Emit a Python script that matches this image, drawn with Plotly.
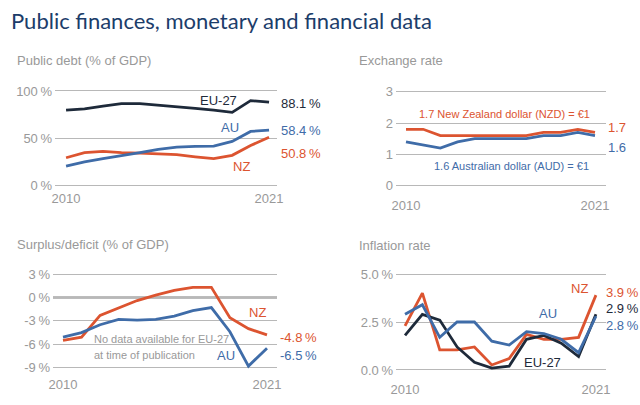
import plotly.graph_objects as go

# ---------------- data ----------------
years = list(range(2010, 2022))

debt_eu = [79.6, 81.0, 84.0, 86.5, 86.5, 85.0, 83.5, 81.4, 79.6, 77.2, 89.8, 88.1]
debt_au = [20.0, 24.5, 28.0, 31.0, 34.5, 38.0, 40.4, 41.0, 41.4, 46.3, 57.0, 58.4]
debt_nz = [29.0, 34.4, 35.8, 34.4, 34.0, 33.3, 32.3, 30.0, 28.0, 31.6, 42.0, 50.8]

fx_nzd = [1.8, 1.8, 1.6, 1.6, 1.6, 1.6, 1.6, 1.6, 1.7, 1.7, 1.8, 1.7]
fx_aud = [1.4, 1.3, 1.2, 1.4, 1.5, 1.5, 1.5, 1.5, 1.6, 1.6, 1.7, 1.6]

bal_nz = [-5.5, -5.1, -2.3, -1.4, -0.4, 0.3, 0.9, 1.3, 1.3, -2.6, -4.0, -4.8]
bal_au = [-5.1, -4.5, -3.5, -2.8, -2.9, -2.8, -2.4, -1.7, -1.3, -4.4, -8.8, -6.5]

inf_nz = [2.3, 4.0, 1.05, 1.05, 1.2, 0.26, 0.6, 1.85, 1.6, 1.6, 1.7, 3.9]
inf_au = [2.9, 3.4, 1.7, 2.5, 2.5, 1.5, 1.3, 2.0, 1.9, 1.6, 0.9, 2.8]
inf_eu = [1.8, 2.9, 2.6, 1.2, 0.4, 0.1, 0.2, 1.6, 1.8, 1.4, 0.7, 2.9]

TS = "\u2009"  # thin space before %
debt_ticks = [0, 50, 100]
debt_ticktext = [f"0{TS}%", f"50{TS}%", f"100{TS}%"]
fx_ticks = [0, 1, 2, 3]
bal_ticks = [-9, -6, -3, 0, 3]
bal_ticktext = [f"-9{TS}%", f"-6{TS}%", f"-3{TS}%", f"0{TS}%", f"3{TS}%"]
inf_ticks = [0, 2.5, 5]
inf_ticktext = [f"0.0{TS}%", f"2.5{TS}%", f"5.0{TS}%"]
x_ticks = [2010, 2021]

# ---------------- style ----------------
W, H = 640, 405
RED = "#dc5430"
BLUE = "#3f6ca8"
DARK = "#1e2a3a"
GRAY = "#999999"
GRID = "#b8b8b8"
TITLE = "#1c3d6a"
FONT = "Liberation Sans, Arial, sans-serif"
FS = 13

def px(x):
    return x / W

def py(y):
    return 1 - y / H

fig = go.Figure()

LW = 2.8
# panel 1
fig.add_trace(go.Scatter(x=years, y=debt_eu, mode="lines", line=dict(color=DARK, width=LW), xaxis="x", yaxis="y"))
fig.add_trace(go.Scatter(x=years, y=debt_nz, mode="lines", line=dict(color=RED, width=LW), xaxis="x", yaxis="y"))
fig.add_trace(go.Scatter(x=years, y=debt_au, mode="lines", line=dict(color=BLUE, width=LW), xaxis="x", yaxis="y"))
# panel 2
fig.add_trace(go.Scatter(x=years, y=fx_nzd, mode="lines", line=dict(color=RED, width=LW), xaxis="x2", yaxis="y2"))
fig.add_trace(go.Scatter(x=years, y=fx_aud, mode="lines", line=dict(color=BLUE, width=LW), xaxis="x2", yaxis="y2"))
# panel 3
fig.add_trace(go.Scatter(x=years, y=bal_nz, mode="lines", line=dict(color=RED, width=LW), xaxis="x3", yaxis="y3"))
fig.add_trace(go.Scatter(x=years, y=bal_au, mode="lines", line=dict(color=BLUE, width=LW), xaxis="x3", yaxis="y3"))
# panel 4
fig.add_trace(go.Scatter(x=years, y=inf_nz, mode="lines", line=dict(color=RED, width=LW), xaxis="x4", yaxis="y4"))
fig.add_trace(go.Scatter(x=years, y=inf_eu, mode="lines", line=dict(color=DARK, width=LW), xaxis="x4", yaxis="y4"))
fig.add_trace(go.Scatter(x=years, y=inf_au, mode="lines", line=dict(color=BLUE, width=LW), xaxis="x4", yaxis="y4"))

tickfont = dict(family=FONT, size=FS, color=GRAY)

def xax(l, r, rng, anchor, standoff):
    return dict(domain=[px(l), px(r)], range=rng, anchor=anchor, tickvals=x_ticks,
                showgrid=False, zeroline=False, showline=False, ticks="", automargin=False,
                tickfont=tickfont, ticklabelstandoff=standoff, fixedrange=True)

def yax(t, b, rng, anchor, tv, tt):
    return dict(domain=[py(b), py(t)], range=rng, anchor=anchor, tickvals=tv, ticktext=tt,
                showgrid=True, gridcolor=GRID, gridwidth=1, zeroline=False, showline=False,
                ticks="", automargin=False, tickfont=tickfont, ticklabelstandoff=2,
                fixedrange=True)

fig.update_layout(
    template="none",
    width=W, height=H, margin=dict(l=0, r=0, t=0, b=0, pad=0), autosize=False,
    paper_bgcolor="white", plot_bgcolor="white", showlegend=False, hovermode=False,
    xaxis=xax(55, 277, [2009.40, 2021.43], "y", 2),
    yaxis=yax(89.1, 186.9, [-2, 102], "x", debt_ticks, debt_ticktext),
    xaxis2=xax(396, 606, [2009.418, 2021.64], "y2", 8),
    yaxis2=yax(89.8, 187.6, [-0.06, 3.06], "x2", fx_ticks, [str(v) for v in fx_ticks]),
    xaxis3=xax(53, 277, [2009.461, 2021.539], "y3", 5),
    yaxis3=yax(271.7, 370.0, [-9.3, 3.3], "x3", bal_ticks, bal_ticktext),
    xaxis4=xax(396, 606, [2009.48, 2021.58], "y4", 8),
    yaxis4=yax(272.1, 371.9, [-0.1, 5.1], "x4", inf_ticks, inf_ticktext),
)

# darker zero line in surplus panel
fig.add_shape(type="line", xref="x3 domain", yref="y3", x0=0, x1=1, y0=0, y1=0,
              line=dict(color="#7a7a7a", width=2), layer="below")

def txt(x, y, s, color, size=FS, xanchor="center", yanchor="middle"):
    fig.add_annotation(x=px(x), y=py(y), xref="paper", yref="paper", text=s, showarrow=False,
                       xanchor=xanchor, yanchor=yanchor, borderpad=0,
                       font=dict(family=FONT, size=size, color=color))

# title & subtitles
fig.add_annotation(x=px(10), y=py(21), xref="paper", yref="paper",
                   text="Public finances, monetary and financial data", showarrow=False,
                   xanchor="left", yanchor="middle", borderpad=0,
                   font=dict(family="Lato, Open Sans, sans-serif", size=22, color=TITLE))
txt(16, 60, "Public debt (% of GDP)", GRAY, FS, "left")
txt(358, 60, "Exchange rate", GRAY, FS, "left")
txt(16, 244, "Surplus/deficit (% of GDP)", GRAY, FS, "left")
txt(358, 245, "Inflation rate", GRAY, FS, "left")

# panel 1 labels
txt(218, 100, "EU-27", DARK)
txt(230, 128, "AU", BLUE)
txt(241, 166, "NZ", RED)
txt(280, 103, f"{debt_eu[-1]:.1f}{TS}%", DARK, FS, "left")
txt(280, 130, f"{debt_au[-1]:.1f}{TS}%", BLUE, FS, "left")
txt(280, 154, f"{debt_nz[-1]:.1f}{TS}%", RED, FS, "left")

# panel 2 labels
txt(504, 114, f"{fx_nzd[-1]:.1f} New Zealand dollar (NZD) = €1", RED, 11)
txt(511, 166, f"{fx_aud[-1]:.1f} Australian dollar (AUD) = €1", BLUE, 11)
txt(607, 128, f"{fx_nzd[-1]:.1f}", RED, FS, "left")
txt(607, 147, f"{fx_aud[-1]:.1f}", BLUE, FS, "left")

# panel 3 labels
txt(257, 312, "NZ", RED)
txt(226, 355, "AU", BLUE)
txt(279, 337, f"{bal_nz[-1]:.1f}{TS}%", RED, FS, "left")
txt(279, 355, f"{bal_au[-1]:.1f}{TS}%", BLUE, FS, "left")
txt(93, 339, "No data available for EU-27", GRAY, 11, "left")
txt(93, 355, "at time of publication", GRAY, 11, "left")

# panel 4 labels
txt(579, 288, "NZ", RED)
txt(548, 313, "AU", BLUE)
txt(542, 362, "EU-27", DARK)
txt(605, 292, f"{inf_nz[-1]:.1f}{TS}%", RED, FS, "left")
txt(605, 308, f"{inf_eu[-1]:.1f}{TS}%", DARK, FS, "left")
txt(605, 325, f"{inf_au[-1]:.1f}{TS}%", BLUE, FS, "left")

# remove the default page margin so the 640x405 figure fills the window exactly
fig.write_html("out.html", config={"displayModeBar": False, "staticPlot": True},
               post_script="document.body.style.margin='0';document.body.style.overflow='hidden';")
